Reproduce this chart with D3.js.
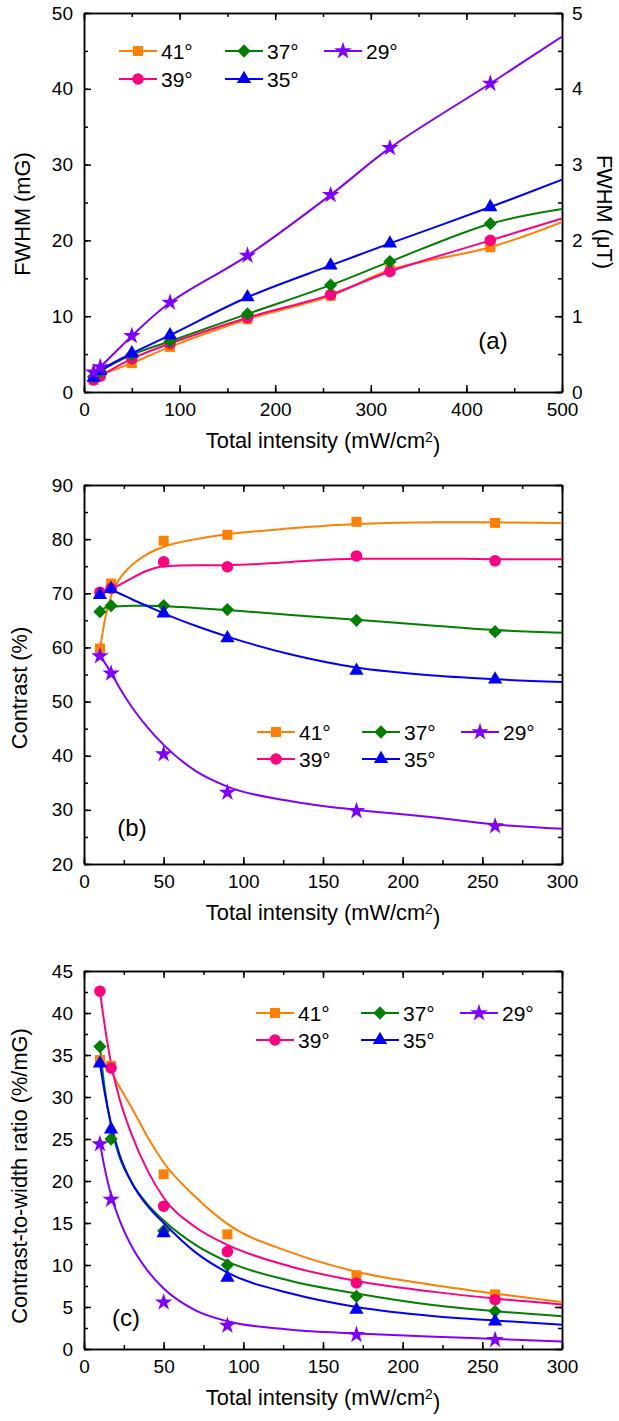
<!DOCTYPE html>
<html><head><meta charset="utf-8">
<script src="https://cdn.jsdelivr.net/npm/d3@7"></script>
<style>body{margin:0;background:#fff;} text{font-family:"Liberation Sans",Arial,sans-serif;}</style>
</head><body>
<script>
// ---------- data ----------
const angles = ["41°","39°","37°","35°","29°"];
const colors = ["#FF8000","#FF0080","#008000","#0000FF","#8000FF"];
const markers = ["square","circle","diamond","triangle","star"];

// Panel (a): FWHM vs intensity
const xA = [10,17,50,90,171,258,320,425];
const fwhm41 = [1.6,2.2,3.8,5.95,9.6,12.7,16.1,19.1];
const fwhm39 = [1.6,2.1,4.4,6.4,9.8,12.85,15.9,20.0];
const fwhm37 = [2.0,2.7,4.9,6.7,10.3,14.1,17.2,22.2];
const fwhm35 = [1.9,2.8,5.1,7.5,12.5,16.7,19.6,24.4];
const fwhm29 = [2.6,3.3,7.4,11.8,18.0,26.0,32.2,40.7];
const xAEnd = 500;
const fwhmEnd = [22.4,22.9,24.15,28.0,46.9];

// Panel (b): contrast
const xB = [10,17,50,90,171,258];
const contrast41 = [59.8,71.8,79.7,80.8,83.2,83.0];
const contrast39 = [70.2,70.9,75.8,74.9,76.9,76.0];
const contrast37 = [66.6,67.7,67.7,67.0,65.0,62.9];
const contrast35 = [69.7,70.8,66.3,61.7,55.7,54.1];
const contrast29 = [58.4,55.2,40.3,33.2,29.8,27.0];
const fitX = [10,13,17,22,30,40,50,70,90,130,171,220,258,300];
const contrastFit41 = [59.5,65,69.5,72.5,75.2,77.3,78.6,80.0,80.9,82.0,82.8,83.1,83.1,83.0];
const contrastFit39 = [70.3,70.5,70.9,71.5,72.8,74.2,75.0,75.2,75.2,75.8,76.4,76.4,76.3,76.3];
const contrastFit37 = [66.7,67.3,67.5,67.6,67.7,67.7,67.6,67.3,66.9,66.0,65.1,64.0,63.2,62.7];
const contrastFit35 = [70.0,70.3,70.5,70.0,68.9,67.6,66.3,64.0,62.0,58.7,56.3,54.8,54.1,53.6];
const contrastFit29 = [58.5,57.2,55.3,52.7,49.0,45.2,42.0,37.2,34.3,31.6,30.0,28.6,27.3,26.5];

// Panel (c): contrast-to-width ratio
const ratio41 = [34.4,33.7,20.8,13.65,8.77,6.5];
const ratio39 = [42.6,33.45,17.0,11.6,7.86,5.87];
const ratio37 = [36.0,25.0,14.05,10.0,6.27,4.48];
const ratio35 = [34.0,26.15,13.8,8.5,4.68,3.3];
const ratio29 = [24.4,17.8,5.56,2.8,1.7,1.1];
const ratioFit41 = [34.5,34.0,33.0,31.3,28.7,25.2,22.2,18.1,14.9,11.5,9.2,7.6,6.6,5.6];
const ratioFit39 = [42.6,38.5,34.0,30.0,25.5,21.2,18.0,14.5,12.4,9.8,8.1,6.8,6.0,5.3];
const ratioFit37 = [36.0,31.0,26.5,23.0,19.8,17.2,15.3,12.4,10.4,8.1,6.6,5.2,4.5,3.9];
const ratioFit35 = [34.0,30.5,26.8,23.3,19.8,17.0,15.0,11.5,9.1,6.6,5.0,3.9,3.4,2.9];
const ratioFit29 = [24.5,21.5,18.3,15.5,12.2,9.3,7.2,4.6,3.3,2.3,1.85,1.45,1.2,0.9];

// ---------- drawing ----------
const W = 619, H = 1421;
const svg = d3.select("body").append("svg").attr("width", W).attr("height", H);
const L = 84, R = 562;
const FS = 19;      // tick labels
const TFS = 21.8;   // axis titles

function symbolPath(type) {
  if (type === "square") return d3.symbol(d3.symbolSquare, 100)();
  if (type === "circle") return d3.symbol(d3.symbolCircle, 105)();
  if (type === "diamond") return d3.symbol(d3.symbolSquare, 88)();
  if (type === "triangle") return d3.symbol(d3.symbolTriangle, 88)();
  return d3.symbol(d3.symbolStar, 95)();
}
function drawMarker(g, type, x, y, color) {
  g.append("path").attr("d", symbolPath(type))
    .attr("transform", `translate(${x},${y})` + (type === "diamond" ? " rotate(45)" : ""))
    .attr("fill", color);
}

function axisStyle(g) {
  g.selectAll(".domain").attr("stroke", "#000").attr("stroke-width", 1.5);
  g.selectAll(".tick line").attr("stroke", "#000").attr("stroke-width", 1.5);
  g.selectAll("text").attr("font-size", FS).attr("fill", "#000")
    .attr("font-family", '"Liberation Sans",Arial,sans-serif');
}

function panel(cfg) {
  const x = d3.scaleLinear().domain(cfg.xDomain).range([L, R]);
  const y = d3.scaleLinear().domain(cfg.yDomain).range([cfg.bottom, cfg.top]);
  const g = svg.append("g");
  const clipId = "clip" + cfg.id;
  svg.append("clipPath").attr("id", clipId).append("rect")
    .attr("x", L).attr("y", cfg.top).attr("width", R - L).attr("height", cfg.bottom - cfg.top);

  // minor ticks
  const xMinor = d3.range(cfg.xDomain[0], cfg.xDomain[1] + 1e-9, cfg.xMinor);
  const yMinor = d3.range(cfg.yDomain[0], cfg.yDomain[1] + 1e-9, cfg.yMinor);
  const mk = (gen, sc, vals, pos) => {
    const a = g.append("g").attr("transform", pos)
      .call(gen(sc).tickValues(vals).tickSize(-4).tickSizeOuter(0).tickFormat(""));
    axisStyle(a);
  };
  mk(d3.axisBottom, x, xMinor, `translate(0,${cfg.bottom})`);
  mk(d3.axisTop, x, xMinor, `translate(0,${cfg.top})`);
  mk(d3.axisLeft, y, yMinor, `translate(${L},0)`);
  mk(d3.axisRight, cfg.y2 ? cfg.y2(y) : y, cfg.y2 ? cfg.y2Minor : yMinor, `translate(${R},0)`);

  const xMajor = d3.range(cfg.xDomain[0], cfg.xDomain[1] + 1e-9, cfg.xStep);
  const yMajor = d3.range(cfg.yDomain[0], cfg.yDomain[1] + 1e-9, cfg.yStep);
  let a;
  a = g.append("g").attr("transform", `translate(0,${cfg.bottom})`)
    .call(d3.axisBottom(x).tickValues(xMajor).tickSize(-7).tickSizeOuter(0).tickPadding(11).tickFormat(d3.format("d")));
  axisStyle(a);
  a = g.append("g").attr("transform", `translate(0,${cfg.top})`)
    .call(d3.axisTop(x).tickValues(xMajor).tickSize(-7).tickSizeOuter(0).tickFormat(""));
  axisStyle(a);
  a = g.append("g").attr("transform", `translate(${L},0)`)
    .call(d3.axisLeft(y).tickValues(yMajor).tickSize(-7).tickSizeOuter(0).tickPadding(11).tickFormat(d3.format("d")));
  axisStyle(a);
  if (cfg.y2) {
    const y2 = cfg.y2(y);
    a = g.append("g").attr("transform", `translate(${R},0)`)
      .call(d3.axisRight(y2).tickValues(cfg.y2Major).tickSize(-7).tickSizeOuter(0).tickPadding(10).tickFormat(d3.format("d")));
  } else {
    a = g.append("g").attr("transform", `translate(${R},0)`)
      .call(d3.axisRight(y).tickValues(yMajor).tickSize(-7).tickSizeOuter(0).tickFormat(""));
  }
  axisStyle(a);

  // curves
  const line = d3.line().x(d => x(d[0])).y(d => y(d[1])).curve(cfg.curve);
  cfg.series.forEach((s, i) => {
    g.append("path").datum(s.line).attr("d", line)
      .attr("fill", "none").attr("stroke", colors[i]).attr("stroke-width", 2)
      .attr("clip-path", `url(#${clipId})`);
  });
  cfg.series.forEach((s, i) => {
    s.pts.forEach(p => drawMarker(g, markers[i], x(p[0]), y(p[1]), colors[i]));
  });

  // legend
  const order = [0, 2, 4, 1, 3];
  order.forEach((si, k) => {
    const row = k < 3 ? 0 : 1, col = k < 3 ? k : k - 3;
    const mx = cfg.legX[col], my = cfg.legY[row];
    g.append("line").attr("x1", mx - 19).attr("x2", mx + 19).attr("y1", my).attr("y2", my)
      .attr("stroke", colors[si]).attr("stroke-width", 2);
    drawMarker(g, markers[si], mx, my, colors[si]);
    g.append("text").attr("x", mx + 23).attr("y", my).attr("dy", "0.36em")
      .attr("font-size", 21).text(angles[si]);
  });

  // panel label
  g.append("text").attr("x", cfg.tag[0]).attr("y", cfg.tag[1]).attr("dy", "0.36em")
    .attr("text-anchor", "middle").attr("font-size", 24).text(cfg.tagText);

  // x title
  const t = g.append("text").attr("x", (L + R) / 2).attr("y", cfg.bottom + 56)
    .attr("text-anchor", "middle").attr("font-size", TFS);
  t.append("tspan").text("Total intensity (mW/cm");
  t.append("tspan").attr("dy", "-0.45em").attr("font-size", 14).text("2");
  t.append("tspan").attr("dy", "0.45em").text(")");

  // y title
  g.append("text").attr("transform", `translate(${cfg.yTitle[0]},${cfg.yTitle[1]}) rotate(-90)`)
    .attr("text-anchor", "middle").attr("dy", "0.36em").attr("font-size", TFS).text(cfg.yTitleText);
  if (cfg.y2Title) {
    g.append("text").attr("transform", `translate(${cfg.y2Title[0]},${cfg.y2Title[1]}) rotate(90)`)
      .attr("text-anchor", "middle").attr("dy", "0.36em").attr("font-size", TFS).text(cfg.y2TitleText);
  }
}

const zip = (xs, ys) => xs.map((v, i) => [v, ys[i]]);

const fwhmAll = [fwhm41, fwhm39, fwhm37, fwhm35, fwhm29];
panel({
  id: "a", xDomain: [0, 500], yDomain: [0, 50], top: 13, bottom: 392,
  xStep: 100, xMinor: 50, yStep: 10, yMinor: 5,
  y2: (y) => d3.scaleLinear().domain([0, 5]).range(y.range()),
  y2Major: [0, 1, 2, 3, 4, 5], y2Minor: d3.range(0, 5.01, 0.5),
  curve: d3.curveCatmullRom.alpha(0.5),
  series: fwhmAll.map((arr, i) => ({ pts: zip(xA, arr), line: zip(xA, arr).concat([[xAEnd, fwhmEnd[i]]]) })),
  legX: [138, 244, 343], legY: [51, 79],
  tag: [493, 340], tagText: "(a)",
  yTitle: [22, 214], yTitleText: "FWHM (mG)",
  y2Title: [605, 212], y2TitleText: "FWHM (μT)"
});

const contrastAll = [contrast41, contrast39, contrast37, contrast35, contrast29];
const contrastFitAll = [contrastFit41, contrastFit39, contrastFit37, contrastFit35, contrastFit29];
panel({
  id: "b", xDomain: [0, 300], yDomain: [20, 90], top: 485, bottom: 864,
  xStep: 50, xMinor: 25, yStep: 10, yMinor: 5,
  curve: d3.curveMonotoneX,
  series: contrastAll.map((arr, i) => ({ pts: zip(xB, arr), line: zip(fitX, contrastFitAll[i]) })),
  legX: [276, 381, 480], legY: [732, 759],
  tag: [132, 827], tagText: "(b)",
  yTitle: [19, 688], yTitleText: "Contrast (%)"
});

const ratioAll = [ratio41, ratio39, ratio37, ratio35, ratio29];
const ratioFitAll = [ratioFit41, ratioFit39, ratioFit37, ratioFit35, ratioFit29];
panel({
  id: "c", xDomain: [0, 300], yDomain: [0, 45], top: 971, bottom: 1349,
  xStep: 50, xMinor: 25, yStep: 5, yMinor: 2.5,
  curve: d3.curveMonotoneX,
  series: ratioAll.map((arr, i) => ({ pts: zip(xB, arr), line: zip(fitX, ratioFitAll[i]) })),
  legX: [275, 380, 479], legY: [1013, 1040],
  tag: [126, 1317], tagText: "(c)",
  yTitle: [19, 1176], yTitleText: "Contrast-to-width ratio (%/mG)"
});
</script>
</body></html>
